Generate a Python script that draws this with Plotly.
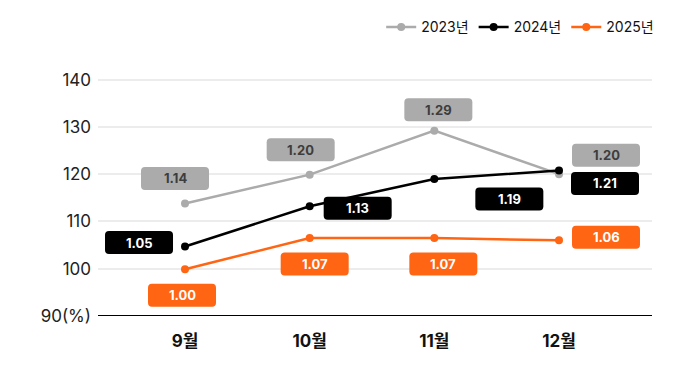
import plotly.graph_objects as go

months = ["9월", "10월", "11월", "12월"]
series_names = ["2023년", "2024년", "2025년"]
v2023 = [113.8, 119.9, 129.2, 120.0]
v2024 = [104.7, 113.2, 119.0, 120.8]
v2025 = [99.9, 106.5, 106.5, 106.0]
lab2023 = ["1.14", "1.20", "1.29", "1.20"]
lab2024 = ["1.05", "1.13", "1.19", "1.21"]
lab2025 = ["1.00", "1.07", "1.07", "1.06"]
y_ticks = [90, 100, 110, 120, 130, 140]
y_ticktext = ["90(%)", "100", "110", "120", "130", "140"]

colors = ["#ababab", "#000000", "#ff6512"]
text_colors = ["#3d3d3d", "#ffffff", "#ffffff"]
# label box offsets (screen px: dx right, dy down) relative to each point
offsets = [
    [(-10, -25), (-9, -25), (4, -21), (47, -19)],
    [(-46, -4), (48, 2), (75, 20), (46, 13)],
    [(-3, 26), (5, 26), (9, 26), (47, -3)],
]

FONT = "Inter, 'Noto Sans CJK KR', sans-serif"
xs = list(range(len(months)))
values = [v2023, v2024, v2025]
labels = [lab2023, lab2024, lab2025]

fig = go.Figure()
for name, vals, c in zip(series_names, values, colors):
    fig.add_trace(go.Scatter(
        x=xs, y=vals, name=name, mode="lines+markers",
        line=dict(color=c, width=2.5),
        marker=dict(color=c, size=8),
        hoverinfo="skip",
    ))

W, H, R = 68, 23, 4
shapes = []
annotations = []
for vals, labs, offs, c, tc in zip(values, labels, offsets, colors, text_colors):
    for i, (v, lab, (dx, dy)) in enumerate(zip(vals, labs, offs)):
        cx, cy = dx, -dy
        x0, x1 = cx - W / 2, cx + W / 2
        y0, y1 = cy - H / 2, cy + H / 2
        path = (f"M{x0+R},{y0} L{x1-R},{y0} Q{x1},{y0} {x1},{y0+R} "
                f"L{x1},{y1-R} Q{x1},{y1} {x1-R},{y1} L{x0+R},{y1} "
                f"Q{x0},{y1} {x0},{y1-R} L{x0},{y0+R} Q{x0},{y0} {x0+R},{y0} Z")
        shapes.append(dict(
            type="path", xref="x", yref="y",
            xsizemode="pixel", ysizemode="pixel",
            xanchor=i, yanchor=v, path=path,
            fillcolor=c, line=dict(width=0), layer="above",
        ))
        annotations.append(dict(
            x=i, y=v, xref="x", yref="y", text=f"<b>{lab}</b>",
            showarrow=False, xshift=dx, yshift=-dy,
            font=dict(family=FONT, size=13, color=tc),
        ))

# page body has an 8px default margin: figure is sized to fit inside the window
fig.update_layout(
    width=681, height=365,
    margin=dict(l=90, r=37, t=48, b=57, autoexpand=False),
    paper_bgcolor="white", plot_bgcolor="white",
    font=dict(family=FONT, color="#222222"),
    shapes=shapes, annotations=annotations,
    showlegend=True,
    legend=dict(
        orientation="h", x=1.013, xanchor="right", y=1.11, yanchor="middle",
        font=dict(family=FONT, size=14, color="#111111"),
        itemwidth=30, tracegroupgap=0, bgcolor="rgba(0,0,0,0)",
    ),
    xaxis=dict(
        range=[-0.698, 3.746], tickvals=xs, ticktext=[f"<b>{m}</b>" for m in months],
        showgrid=False, zeroline=False, showline=False, ticks="",
        tickfont=dict(family=FONT, size=17, color="#111111"),
        ticklabelstandoff=13, fixedrange=True,
    ),
    yaxis=dict(
        range=[90, 145], tickvals=y_ticks, ticktext=y_ticktext,
        showgrid=True, gridcolor="#ececec", gridwidth=1.5,
        zeroline=False, showline=False, ticks="",
        tickfont=dict(family=FONT, size=17, color="#222222"),
        ticklabelstandoff=6, fixedrange=True,
    ),
)
fig.add_shape(type="line", xref="paper", yref="y", x0=0, x1=1, y0=90, y1=90,
              line=dict(color="#000000", width=2), layer="above")

fig.write_html("out.html")
